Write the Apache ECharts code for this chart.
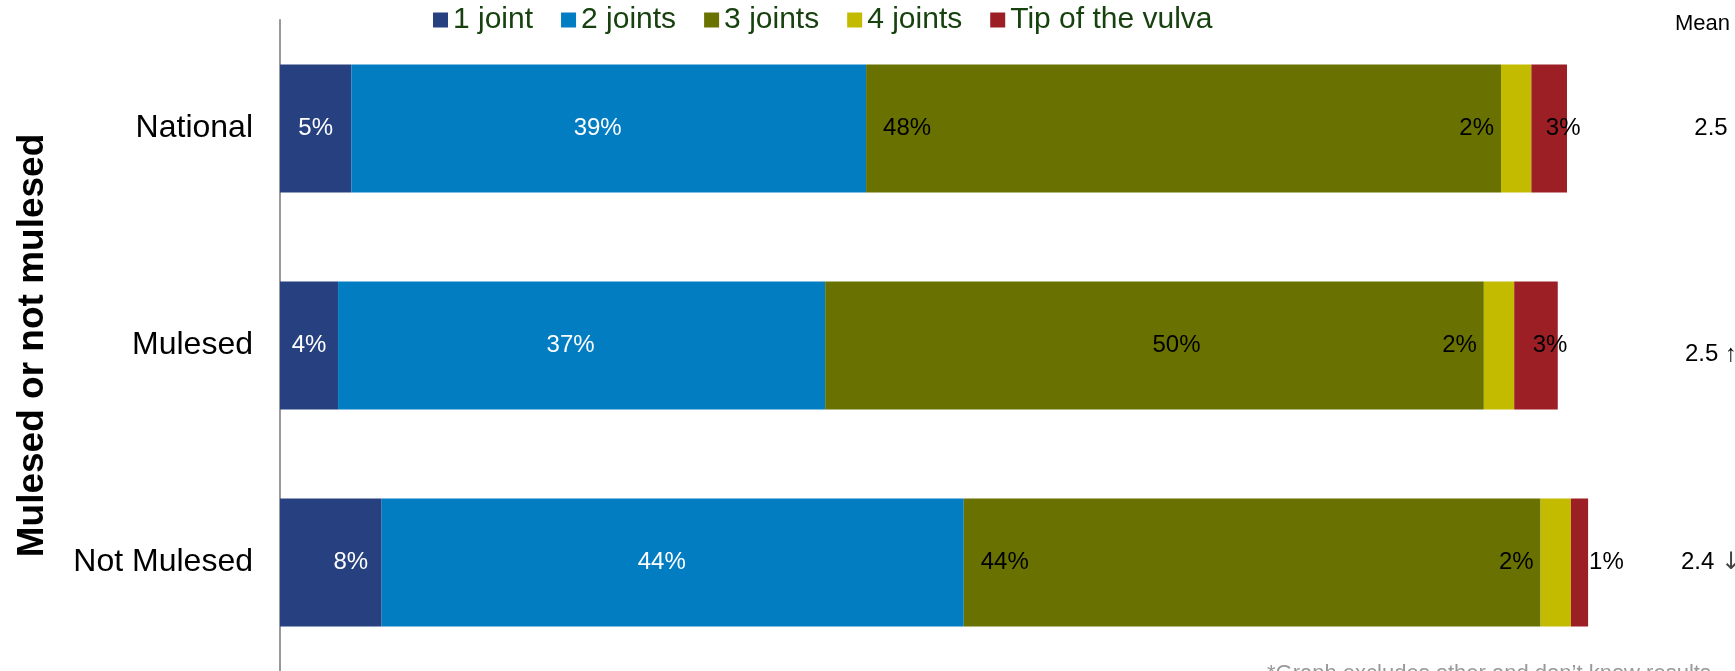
<!DOCTYPE html>
<html>
<head>
<meta charset="utf-8">
<script src="https://cdn.jsdelivr.net/npm/echarts@6/dist/echarts.min.js"></script>
<style>
html, body { margin: 0; padding: 0; background: #fff; }
#chart { width: 1735px; height: 671px; }
</style>
</head>
<body>
<div id="chart"></div>
<script>
//////////////////////////////////////////////////////////////////
// [ Data ]

var categories = ['National', 'Mulesed', 'Not Mulesed'];
var seriesNames = ['1 joint', '2 joints', '3 joints', '4 joints', 'Tip of the vulva'];

var oneJoint = [5.4, 4.4, 7.7];
var twoJoints = [39.0, 36.9, 44.1];
var threeJoints = [48.1, 49.9, 43.7];
var fourJoints = [2.3, 2.3, 2.3];
var tipOfVulva = [2.7, 3.3, 1.3];

var meanValues = ['2.5', '2.5', '2.4'];
var meanArrows = ['', '↑', '↓'];

//////////////////////////////////////////////////////////////////
// [ Chart ]

var FONT = '"Liberation Sans", Arial, sans-serif';
var colors = ['#274080', '#027dc2', '#697200', '#c3bb00', '#9c1f26'];
var values = [oneJoint, twoJoints, threeJoints, fourJoints, tipOfVulva];

// label placement, like the hand-moved labels in the original
function labelFor(s, i) {
    var lbl = { show: true, position: 'inside', color: s < 2 ? '#fff' : '#000' };
    if (s === 0 && i === 2) lbl.offset = [20, 0];
    if (s === 1) lbl.offset = [-11, 0];
    if (s === 2) {
        if (i === 1) lbl.offset = [22, 0];
        else { lbl.position = 'insideLeft'; lbl.distance = 17; }
    }
    if (s === 3) { lbl.position = 'left'; lbl.distance = 7; }
    if (s === 4) {
        if (i === 2) { lbl.position = 'right'; lbl.distance = 1; }
        else lbl.offset = [14, 0];
    }
    return lbl;
}

var series = seriesNames.map(function (name, s) {
    return {
        name: name,
        type: 'bar',
        stack: 'total',
        barWidth: '59%',
        itemStyle: { color: colors[s] },
        label: {
            fontSize: 24,
            fontFamily: FONT,
            formatter: function (p) { return Math.round(p.value) + '%'; }
        },
        data: values[s].map(function (v, i) {
            return { value: v, label: labelFor(s, i) };
        })
    };
});

var chart = echarts.init(document.getElementById('chart'));

chart.setOption({
    animation: false,
    textStyle: { fontFamily: FONT },
    title: {
        text: 'Mean',
        right: 0,
        top: 8,
        textStyle: { fontSize: 22, fontWeight: 'normal', color: '#000', fontFamily: FONT }
    },
    legend: {
        left: 428,
        top: 0,
        icon: 'rect',
        itemWidth: 15,
        itemHeight: 15,
        itemGap: 28,
        textStyle: { fontSize: 30, color: '#17420f', fontFamily: FONT },
        data: seriesNames
    },
    grid: { left: 280, right: 135, top: 20, bottom: 0, outerBoundsMode: 'none' },
    xAxis: { type: 'value', min: 0, max: 100, show: false },
    yAxis: [
        {
            type: 'category',
            data: categories,
            inverse: true,
            axisLine: { lineStyle: { color: '#999', width: 2 } },
            axisTick: { show: false },
            axisLabel: { fontSize: 32, color: '#000', margin: 27, fontFamily: FONT },
            name: 'Mulesed or not mulesed',
            nameLocation: 'middle',
            nameRotate: 90,
            nameGap: 229,
            nameTextStyle: { fontSize: 37, fontWeight: 'bold', color: '#000', fontFamily: FONT }
        },
        {
            type: 'category',
            data: categories,
            inverse: true,
            position: 'right',
            axisLine: { show: false },
            axisTick: { show: false },
            axisLabel: {
                fontSize: 24,
                color: '#000',
                margin: 111,
                align: 'center',
                fontFamily: FONT,
                formatter: function (v, i) {
                    var txt = meanValues[i] + (meanArrows[i] ? ' {arrow|' + meanArrows[i] + '}' : '');
                    return i === 1 ? '{low|' + txt.replace(' {arrow|↑}', ' ↑') + '}' : txt;
                },
                rich: {
                    arrow: { fontSize: 24, color: '#444', fontFamily: '"DejaVu Sans", sans-serif' },
                    low: { fontSize: 24, color: '#000', padding: [18, 0, 0, 0] }
                }
            }
        }
    ],
    graphic: [{
        type: 'text',
        left: 1267,
        top: 663,
        style: { text: '*Graph excludes other and don’t know results', fontSize: 22, fill: '#999', fontFamily: FONT }
    }],
    series: series
});

window.addEventListener('resize', function () { chart.resize(); });
</script>
</body>
</html>
